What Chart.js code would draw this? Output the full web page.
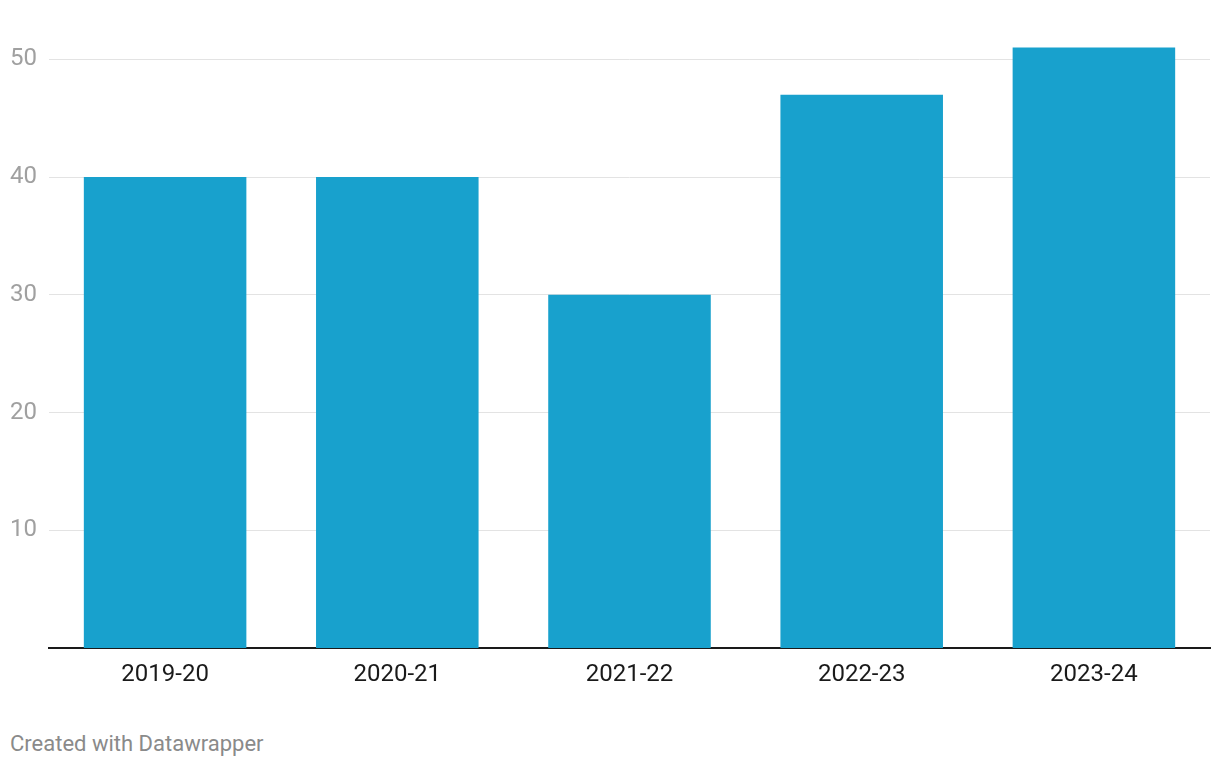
<!DOCTYPE html>
<html>
<head>
<meta charset="utf-8">
<script src="https://cdn.jsdelivr.net/npm/chart.js@4"></script>
<style>
  html, body { margin: 0; padding: 0; background: #fff; }
  #wrap { position: relative; width: 1220px; height: 768px; }
  #chart { position: absolute; left: 0; top: 0; }
  #credit { position: absolute; left: 10px; top: 731px; font: 22px Roboto, sans-serif; color: #8a8a8a; }
</style>
</head>
<body>
<div id="wrap">
  <canvas id="chart" width="1220" height="700"></canvas>
  <div id="credit">Created with Datawrapper</div>
</div>
<script>
const seasons = ['2019-20', '2020-21', '2021-22', '2022-23', '2023-24'];
const values = [40, 40, 30, 47, 51];
const yTicks = [10, 20, 30, 40, 50];

const ctx = document.getElementById('chart').getContext('2d');
new Chart(ctx, {
    type: 'bar',
    data: {
        labels: seasons,
        datasets: [{
            data: values,
            backgroundColor: '#18a1cd',
            borderWidth: 0,
            categoryPercentage: 0.7,
            barPercentage: 1.0
        }]
    },
    options: {
        responsive: false,
        animation: false,
        layout: { padding: { left: 0, right: 10, top: 0, bottom: 0 } },
        plugins: { legend: { display: false }, tooltip: { enabled: false } },
        scales: {
            x: {
                afterFit: (scale) => { scale.height = 52; },
                grid: { display: false, drawTicks: false },
                border: { display: true, color: '#1a1a1a', width: 2 },
                ticks: { color: '#1a1a1a', font: { family: 'Roboto', size: 24 }, padding: 13 }
            },
            y: {
                min: 0,
                max: 52.8,
                afterFit: (scale) => { scale.width = 49; },
                afterBuildTicks: (scale) => { scale.ticks = yTicks.map(v => ({ value: v })); },
                grid: { color: '#e3e3e3', lineWidth: 1, drawTicks: false },
                border: { display: false },
                ticks: { color: '#a0a0a0', font: { family: 'Roboto', size: 24 }, padding: 12 }
            }
        }
    }
});
</script>
</body>
</html>
